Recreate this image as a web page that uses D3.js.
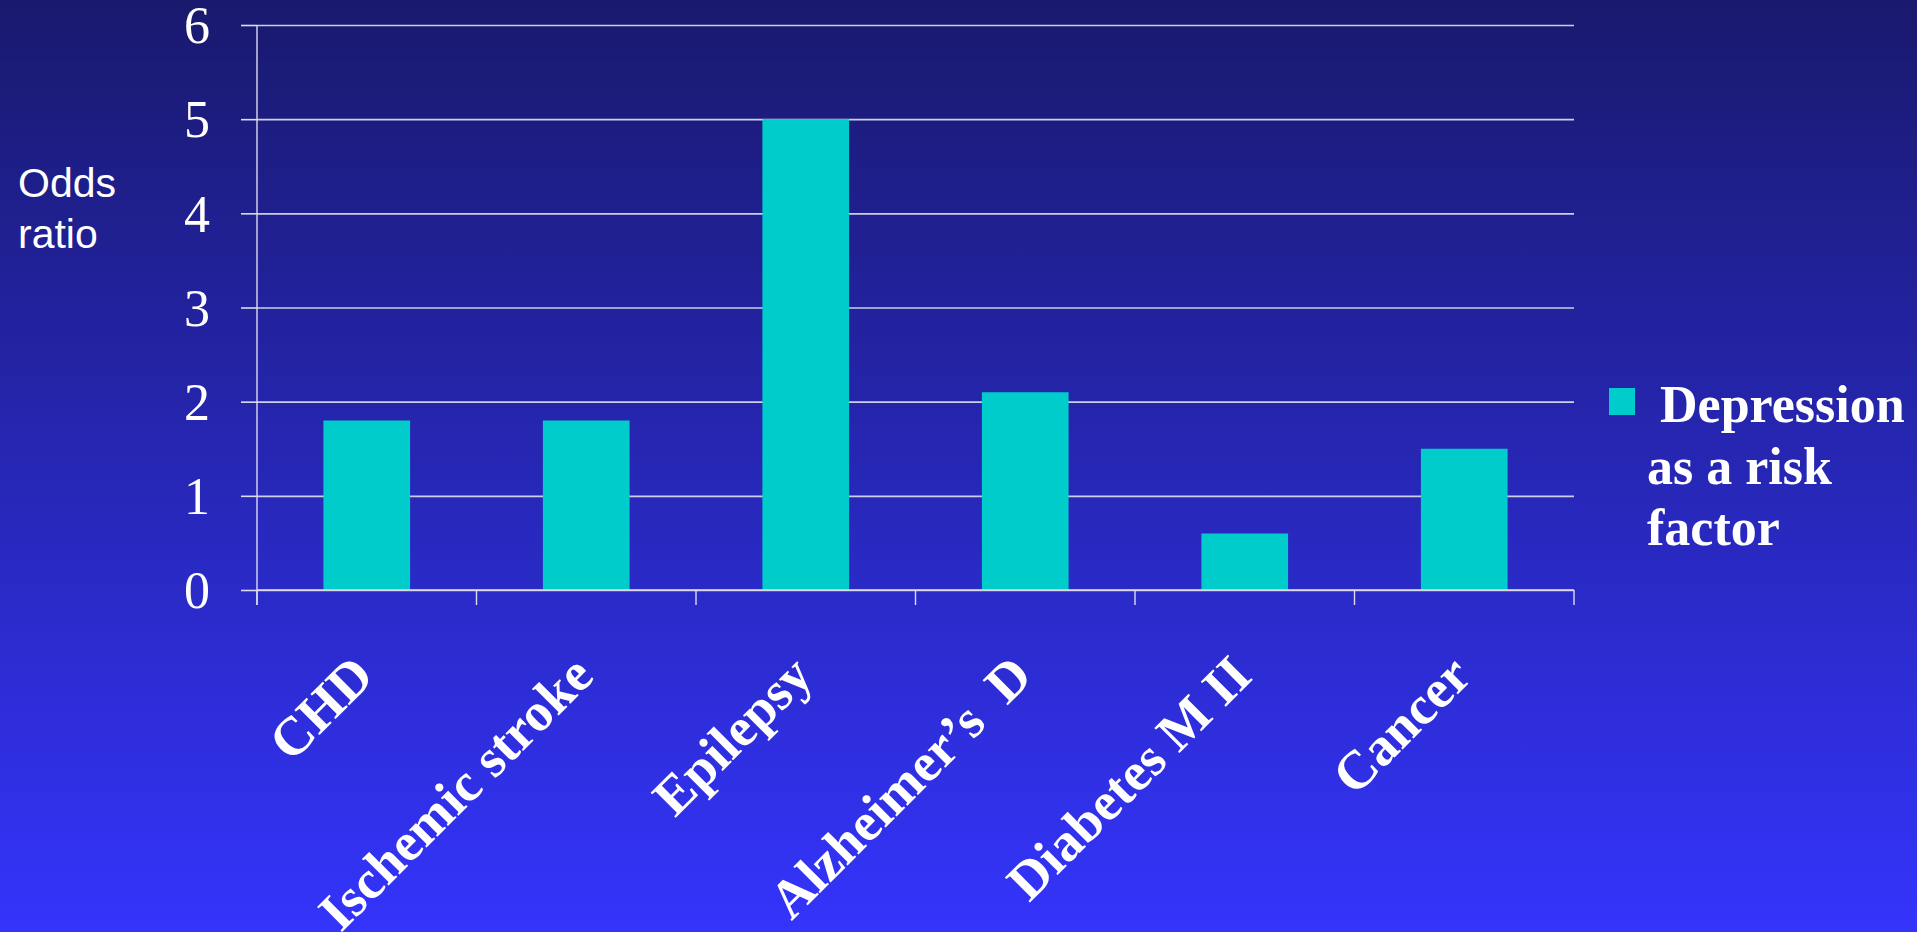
<!DOCTYPE html>
<html>
<head>
<meta charset="utf-8">
<script src="https://cdn.jsdelivr.net/npm/d3@7"></script>
<style>
  html, body { margin: 0; padding: 0; overflow: hidden; }
  body { width: 1917px; height: 932px; }
  svg { display: block; }
</style>
</head>
<body>
<svg id="chart" width="1917" height="932"></svg>
<script>
const categories = ["CHD", "Ischemic stroke", "Epilepsy", "Alzheimer\u2019s  D", "Diabetes M II", "Cancer"];
const values = [1.8, 1.8, 5.0, 2.1, 0.6, 1.5];
const yTicks = [0, 1, 2, 3, 4, 5, 6];
const seriesName = ["\u00a0Depression", "as a risk", "factor"];
const yTitle = ["Odds", "ratio"];

(function () {
const svg = d3.select("#chart");
const W = 1917, H = 932;

// background gradient
const defs = svg.append("defs");
const grad = defs.append("linearGradient").attr("id", "bg").attr("x1", 0).attr("y1", 0).attr("x2", 0).attr("y2", 1);
grad.append("stop").attr("offset", "0%").attr("stop-color", "#19196e");
grad.append("stop").attr("offset", "100%").attr("stop-color", "#3434fc");
svg.append("rect").attr("width", W).attr("height", H).attr("fill", "url(#bg)");

const pL = 257, pR = 1574, pT = 25, pB = 590;

const x = d3.scaleBand().domain(categories).range([pL, pR]).paddingInner(0.605).paddingOuter(0.3025);
const y = d3.scaleLinear().domain([0, 6]).range([pB, pT]);

// gridlines
const grid = svg.append("g").attr("transform", `translate(${pL},0)`)
  .call(d3.axisLeft(y).tickValues(yTicks).tickSize(-(pR - pL)).tickFormat(""));
grid.select(".domain").remove();
grid.selectAll(".tick line").attr("stroke", "#cfcfe4").attr("stroke-width", 1.6);

// bars
svg.append("g").selectAll("rect").data(values).join("rect")
  .attr("x", (d, i) => x(categories[i]))
  .attr("width", x.bandwidth())
  .attr("y", d => y(d))
  .attr("height", d => y(0) - y(d))
  .attr("fill", "#00cccc");

// y axis with ticks & labels
const yAxis = svg.append("g").attr("transform", `translate(${pL},0)`)
  .call(d3.axisLeft(y).tickValues(yTicks).tickSize(16).tickPadding(31).tickFormat(d3.format("d")));
yAxis.select(".domain").remove();
yAxis.selectAll(".tick line").attr("stroke", "#dcdcee").attr("stroke-width", 1.6);
yAxis.selectAll(".tick text")
  .attr("fill", "#ffffff")
  .attr("font-family", "'Liberation Serif', 'Times New Roman', serif")
  .attr("font-size", 52)
  .attr("dy", "0.34em");
// vertical axis line (extends to bottom of x ticks)
svg.append("line").attr("x1", pL).attr("x2", pL).attr("y1", pT).attr("y2", pB + 15)
  .attr("stroke", "#dcdcee").attr("stroke-width", 1.4);

// x axis line and tick marks at category boundaries
svg.append("line").attr("x1", pL).attr("x2", pR).attr("y1", pB).attr("y2", pB)
  .attr("stroke", "#dcdcee").attr("stroke-width", 1.6);
const boundaries = d3.range(categories.length + 1).map(i => x.range()[0] + i * x.step());
svg.append("g").selectAll("line").data(boundaries).join("line")
  .attr("x1", d => d).attr("x2", d => d).attr("y1", pB).attr("y2", pB + 15)
  .attr("stroke", "#dcdcee").attr("stroke-width", 1.4);

// x labels rotated
svg.append("g").selectAll("text").data(categories).join("text")
  .attr("transform", d => `translate(${x(d) + x.bandwidth() / 2 - 4},${pB + 75}) rotate(-45)`)
  .attr("text-anchor", "end")
  .attr("dy", "0.35em")
  .attr("fill", "#ffffff")
  .attr("font-family", "'Liberation Serif', 'Times New Roman', serif")
  .attr("font-weight", "bold")
  .attr("font-size", 54)
  .style("white-space", "pre")
  .text(d => d);

// y title
svg.append("text")
  .attr("x", 18).attr("y", 197)
  .attr("fill", "#ffffff")
  .attr("font-family", "'Liberation Sans', Arial, sans-serif")
  .attr("font-size", 41)
  .selectAll("tspan").data(yTitle).join("tspan")
  .attr("x", 18).attr("dy", (d, i) => i === 0 ? 0 : 51)
  .text(d => d);

// legend
svg.append("rect").attr("x", 1609).attr("y", 388).attr("width", 26).attr("height", 27).attr("fill", "#00cccc");
svg.append("text")
  .attr("x", 1647).attr("y", 422)
  .attr("fill", "#ffffff")
  .attr("font-family", "'Liberation Serif', 'Times New Roman', serif")
  .attr("font-weight", "bold")
  .attr("font-size", 52)
  .selectAll("tspan").data(seriesName).join("tspan")
  .attr("x", 1647).attr("dy", (d, i) => i === 0 ? 0 : 61.7)
  .text(d => d);
})();
</script>
</body>
</html>
